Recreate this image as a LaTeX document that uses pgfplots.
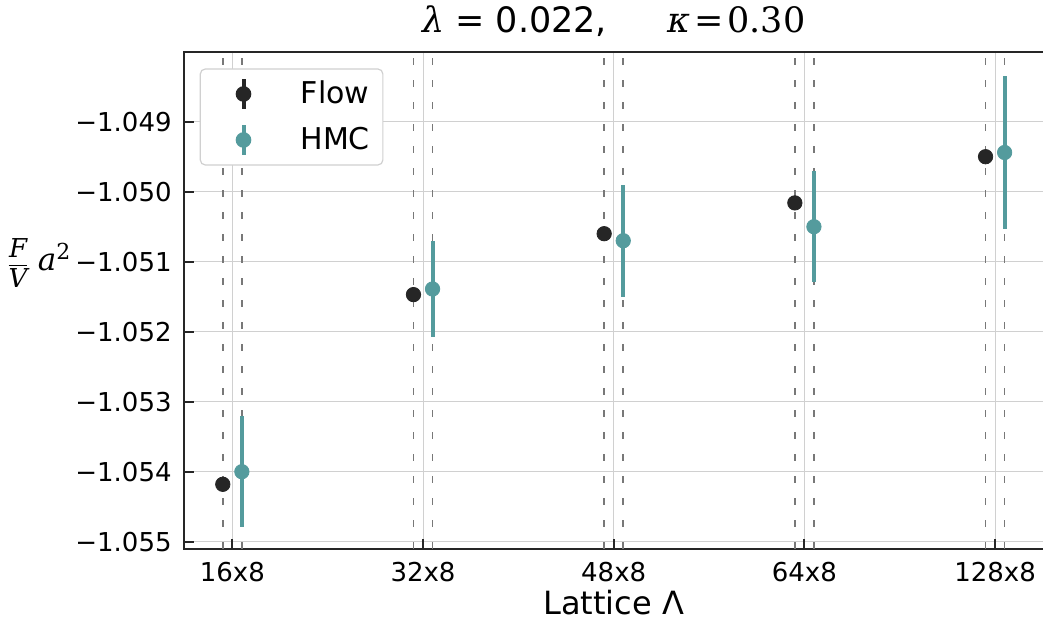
\documentclass[border=0pt]{standalone}
\usepackage{pgfplots}
\pgfplotsset{compat=1.18}
\usepackage{pgfplotstable}
\usepackage{fontspec}
\setmainfont{DejaVu Sans}
\newfontfamily\dvs{DejaVu Serif}
\definecolor{flowc}{RGB}{38,38,38}
\definecolor{hmcc}{RGB}{84,155,157}
\definecolor{gridc}{RGB}{208,208,208}
\definecolor{dashc}{RGB}{120,120,120}

\pgfplotstableread{
x y e
-0.05 -1.05418 0.00004
0.95 -1.05147 0.00004
1.95 -1.05060 0.00004
2.95 -1.05016 0.00004
3.95 -1.04950 0.00004
}\flowtab
\pgfplotstableread{
x y e
0.05 -1.05400 0.00079
1.05 -1.05139 0.00069
2.05 -1.05070 0.00080
3.05 -1.05050 0.00079
4.05 -1.04944 0.00109
}\hmctab

\begin{document}
\begin{tikzpicture}
\begin{axis}[
  scale only axis, width=430pt, height=248.5pt,
  xmin=-0.255, xmax=4.255, ymin=-1.055104, ymax=-1.048004,
  xtick={0,1,2,3,4}, xticklabels={16x8,32x8,48x8,64x8,128x8},
  ytick={-1.055,-1.054,-1.053,-1.052,-1.051,-1.050,-1.049},
  yticklabels={−1.055,−1.054,−1.053,−1.052,−1.051,−1.050,−1.049},
  xtick pos=bottom, ytick pos=left,
  tick align=inside,
  major tick length=5pt,
  tick style={line width=1pt, color=flowc},
  axis line style={line width=1pt, color=flowc},
  grid=major, major grid style={gridc, line width=0.5pt},
  ticklabel style={font=\fontsize{13}{15}\selectfont, text=black},
  xticklabel style={anchor=base, yshift=-16.35pt},
  yticklabel style={anchor=east, inner sep=0pt, xshift=-5.85pt},
  xlabel={Lattice Λ},
  xlabel style={at={(axis description cs:0.5,0)}, anchor=base, yshift=-33pt, font=\fontsize{16}{18}\selectfont},
  legend style={at={(rel axis cs:0,1)}, anchor=north west, xshift=8pt, yshift=-8.2pt,
    draw=gridc, rounded corners=2.5pt, fill=white, line width=0.6pt,
    font=\fontsize{15}{18}\selectfont, inner xsep=6.5pt, inner ysep=4pt,
    row sep=6pt, column sep=0pt, nodes={inner sep=0pt}},
]
\addplot[dashc, line width=0.85pt, dash pattern=on 3.3pt off 7.7pt, forget plot] coordinates {(-0.05,-1.055104) (-0.05,-1.048004)};
\addplot[dashc, line width=0.85pt, dash pattern=on 3.3pt off 7.7pt, forget plot] coordinates {(0.05,-1.055104) (0.05,-1.048004)};
\addplot[dashc, line width=0.85pt, dash pattern=on 3.3pt off 7.7pt, forget plot] coordinates {(0.95,-1.055104) (0.95,-1.048004)};
\addplot[dashc, line width=0.85pt, dash pattern=on 3.3pt off 7.7pt, forget plot] coordinates {(1.05,-1.055104) (1.05,-1.048004)};
\addplot[dashc, line width=0.85pt, dash pattern=on 3.3pt off 7.7pt, forget plot] coordinates {(1.95,-1.055104) (1.95,-1.048004)};
\addplot[dashc, line width=0.85pt, dash pattern=on 3.3pt off 7.7pt, forget plot] coordinates {(2.05,-1.055104) (2.05,-1.048004)};
\addplot[dashc, line width=0.85pt, dash pattern=on 3.3pt off 7.7pt, forget plot] coordinates {(2.95,-1.055104) (2.95,-1.048004)};
\addplot[dashc, line width=0.85pt, dash pattern=on 3.3pt off 7.7pt, forget plot] coordinates {(3.05,-1.055104) (3.05,-1.048004)};
\addplot[dashc, line width=0.85pt, dash pattern=on 3.3pt off 7.7pt, forget plot] coordinates {(3.95,-1.055104) (3.95,-1.048004)};
\addplot[dashc, line width=0.85pt, dash pattern=on 3.3pt off 7.7pt, forget plot] coordinates {(4.05,-1.055104) (4.05,-1.048004)};

\addplot[only marks, mark=*, mark size=3.6pt, color=flowc, mark options={draw=none, fill=flowc},
  legend image code/.code={\path (0pt,-7.5pt) (43pt,7.5pt);
    \draw[flowc, line width=2pt, solid] (14.8pt,-7.5pt)--(14.8pt,7.5pt);
    \fill[flowc] (14.8pt,0pt) circle (3.6pt);},
  error bars/.cd, y dir=both, y explicit, error mark=none, error bar style={line width=2pt, flowc}]
  table[x=x, y=y, y error=e]{\flowtab};
\addlegendentry{Flow}
\addplot[only marks, mark=*, mark size=3.6pt, color=hmcc, mark options={draw=none, fill=hmcc},
  legend image code/.code={\path (0pt,-7.5pt) (43pt,7.5pt);
    \draw[hmcc, line width=2pt, solid] (14.8pt,-7.5pt)--(14.8pt,7.5pt);
    \fill[hmcc] (14.8pt,0pt) circle (3.6pt);},
  error bars/.cd, y dir=both, y explicit, error mark=none, error bar style={line width=2pt, hmcc}]
  table[x=x, y=y, y error=e]{\hmctab};
\addlegendentry{HMC}
\end{axis}
\node[anchor=base, font=\fontsize{17.5}{20}\selectfont, inner sep=0pt] at ([yshift=9.5pt]current axis.north)
  {{\dvs\itshape λ} = 0.022,\hspace{30pt}{\dvs\itshape κ}\hspace{2pt}{\dvs =}\hspace{2pt}{\dvs 0.30}};
\node[anchor=east, inner sep=0pt] at ([xshift=-56pt, yshift=143pt]current axis.south west)
  {$\displaystyle\frac{\hbox{\fontsize{13}{15}\selectfont\dvs\itshape F}}{\hbox{\fontsize{13}{15}\selectfont\dvs\itshape V}}\hspace{4pt}\hbox{\fontsize{15.5}{17}\selectfont\dvs\itshape a}^{\hbox{\fontsize{11}{12}\selectfont\dvs 2}}$};
\pgfresetboundingbox
\path ([shift={(-91.85pt,-38.5pt)}]current axis.south west) rectangle ([shift={(-0.35pt,26pt)}]current axis.north east);
\end{tikzpicture}
\end{document}
